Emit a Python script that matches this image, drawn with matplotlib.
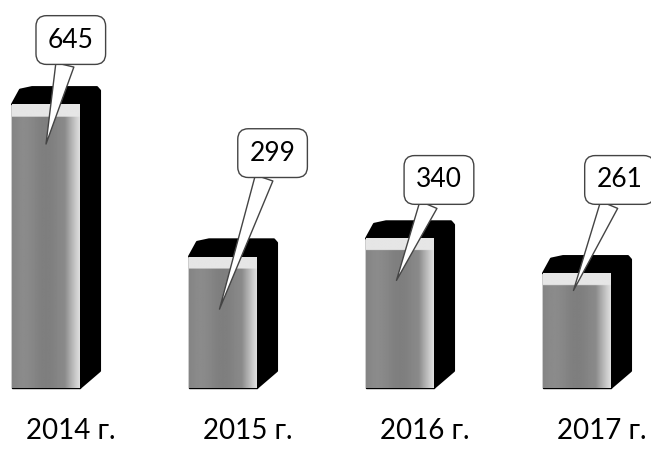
import numpy as np
import matplotlib.pyplot as plt
from matplotlib.patches import Polygon

years = ['2014 г.', '2015 г.', '2016 г.', '2017 г.']
values = [645, 299, 340, 261]

# callout box positions (data units) and where the pointer lands on the bar
box_x = [0.14, 1.28, 2.22, 3.24]
box_y = [791, 534, 473, 473]
tip_dx = [0.0, -0.02, -0.02, -0.02]
tip_frac = [0.86, 0.6, 0.72, 0.85]

plt.rcParams['font.family'] = ['Lato', 'DejaVu Sans']

fig = plt.figure(figsize=(6.51, 4.51), dpi=100)
ax = fig.add_axes([0, 0, 1, 1])
ax.set_xlim(-0.26, 3.418)
ax.set_ylim(-143, 882)
ax.axis('off')

w = 0.384      # front face width
dx = 0.113     # depth to the right
dy = 39        # depth upward

x = np.arange(len(values))
bars = ax.bar(x, values, width=w, color='#8c8c8c', edgecolor='black', linewidth=1.0, zorder=3)

for i, (b, v) in enumerate(zip(bars, values)):
    x0 = b.get_x()
    x1 = x0 + w
    # dark side and top
    back = Polygon([(x0, v), (x0 + dx * 0.4, v + dy * 0.85), (x0 + dx, v + dy),
                    (x1 + dx * 0.85, v + dy), (x1 + dx, v + dy * 0.8),
                    (x1 + dx, dy), (x1, 0), (x1, v)],
                   closed=True, fc='black', ec='black', lw=1.5, zorder=2, joinstyle='round')
    ax.add_patch(back)
    # shaded front face
    cols = np.linspace(0, 1, 80)
    shade = 0.52 + 0.08 * np.sin(cols * np.pi * 3) * 0.3
    shade = shade + np.clip((cols - 0.78) / 0.22, 0, 1) * 0.35
    rows = np.linspace(0, 1, 200)[:, None]
    top_px = 12 / 0.44 / v
    img = np.tile(shade, (200, 1))
    img = np.where(rows < top_px, 0.9, img)
    im = ax.imshow(img, cmap='gray', vmin=0, vmax=1, aspect='auto',
                   extent=(x0, x1, 0, v), origin='upper', zorder=4, interpolation='bilinear')
    im.set_clip_path(b)

    ax.annotate(str(v), xy=(i + tip_dx[i], v * tip_frac[i]), xytext=(box_x[i], box_y[i]),
                ha='center', va='center', fontsize=19, color='black', zorder=6,
                bbox=dict(boxstyle='round,pad=0.45,rounding_size=0.4', fc='white', ec='#444444', lw=1.0),
                arrowprops=dict(arrowstyle='wedge,tail_width=0.7,shrink_factor=0.5',
                                fc='white', ec='#444444', lw=1.0, shrinkA=0, shrinkB=0))

    ax.text(i + 0.14, -98, years[i], ha='center', va='center', fontsize=20, color='black')

ax.set_xlim(-0.26, 3.418)
ax.set_ylim(-143, 882)
fig.savefig('out.png', dpi=100)
